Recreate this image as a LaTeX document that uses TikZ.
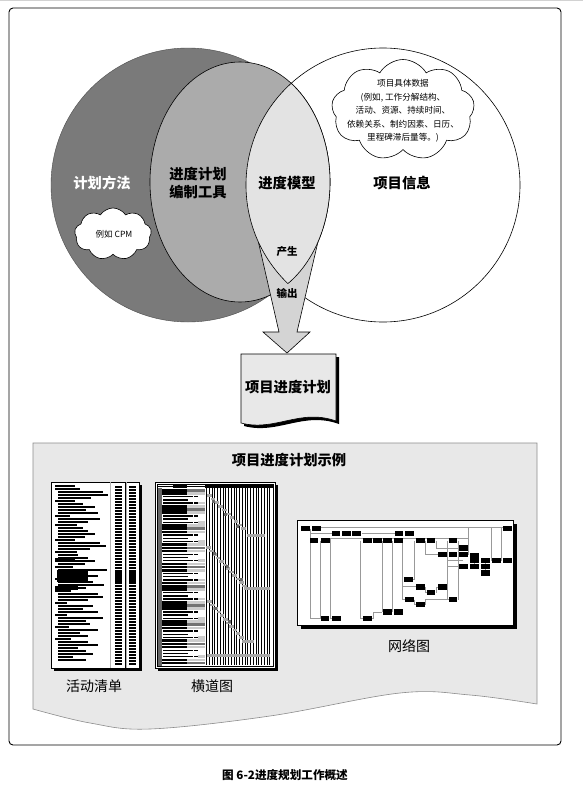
\documentclass[tikz,border=0pt]{standalone}
\usepackage{fontspec}
\setmainfont{Noto Sans CJK SC}
\usetikzlibrary{shapes.symbols}
\definecolor{darkc}{gray}{0.48}
\definecolor{midg}{gray}{0.67}
\definecolor{lensg}{gray}{0.89}
\definecolor{arrowg}{gray}{0.83}
\definecolor{panelg}{gray}{0.91}
\definecolor{docg}{gray}{0.91}
\definecolor{netline}{gray}{0.6}
\begin{document}
\begin{tikzpicture}[x=1pt,y=-1pt,
  mainlab/.style={font=\fontsize{14.3}{18.5}\selectfont\bfseries, align=center, inner sep=0pt},
  smalllab/.style={font=\fontsize{10.5}{12}\selectfont\bfseries, inner sep=0pt},
  cloudshape/.style={cloud, cloud ignores aspect, draw=black, fill=white, line width=0.6pt, inner sep=0pt},
  thinline/.style={line width=0.6pt, draw=black},
  netbox/.style={fill=black},
]
\useasboundingbox (0,0) rectangle (583,787);
\fill[white] (0,0) rectangle (583,787);
\draw[gray!35, line width=1.5pt] (0,0.7) -- (583,0.7);

% outer frame
\draw[line width=0.9pt, rounded corners=4pt] (9,8) rectangle (561,745);

% Venn circles
\fill[darkc] (188,185) circle[radius=137pt];
\draw[line width=0.4pt, black!70] (188,185) circle[radius=137pt];
\filldraw[fill=white, thinline] (383,185) circle[radius=137pt];
\filldraw[fill=midg, thinline] (240,182) ellipse[x radius=90pt, y radius=120pt];
% arrow
\filldraw[fill=arrowg, thinline] (258.4,242) -- (279,332) -- (263,332) -- (287,353) -- (310,332) -- (297,332) -- (317.9,242) -- cycle;
% lens
\begin{scope}
  \clip (383,185) circle[radius=137pt];
  \filldraw[fill=lensg, thinline] (240,182) ellipse[x radius=90pt, y radius=120pt];
\end{scope}
\begin{scope}
  \clip (240,182) ellipse[x radius=90pt, y radius=120pt];
  \draw[thinline] (383,185) circle[radius=137pt];
\end{scope}

% labels
\node[mainlab, text=white] (plan) at (102,183) {计划方法};
\node[mainlab] (tool) at (198,183) {进度计划\\编制工具};
\node[mainlab] (model) at (287,183) {进度模型};
\node[mainlab] (info) at (402,183) {项目信息};
\node[smalllab] (gen) at (287,252) {产生};
\node[smalllab] (outp) at (287,293) {输出};

% clouds
\node[cloudshape, cloud puffs=9, cloud puff arc=120, minimum width=143pt, minimum height=101pt] (bigcloud) at (403,110) {};
\node[font=\fontsize{8.6}{13.5}\selectfont, align=center, inner sep=0pt] (bigtext) at (403,111)
  {项目具体数据\\(例如, 工作分解结构、\\活动、资源、持续时间、\\依赖关系、制约因素、日历、\\里程碑滞后量等。)};
\node[cloudshape, cloud puffs=9, cloud puff arc=115, minimum width=77pt, minimum height=52pt] (smallcloud) at (113,234) {};
\node[font=\fontsize{8.5}{10}\selectfont, inner sep=0pt] (cpm) at (114,234) {例如 CPM};

% schedule document
\fill[black] (244,357) -- (339,357) -- (339,424) .. controls (303,411) and (278,435) .. (244,426) -- cycle;
\filldraw[fill=docg, thinline] (241,354) -- (336,354) -- (336,421) .. controls (300,408) and (275,432) .. (241,423) -- cycle;
\node[mainlab] (sched) at (288,387) {项目进度计划};

% examples panel
\filldraw[fill=panelg, draw=black!45, line width=0.6pt] (33,443) -- (537,443) -- plot[smooth, tension=0.6] coordinates {(537,704) (470,695) (400,693) (270,716) (150,729) (90,723) (33,709)} -- cycle;
\node[mainlab] (extitle) at (289,460) {项目进度计划示例};

% ---- activity list ----
\fill[black] (54,485) rectangle (142,671);
\filldraw[fill=white, draw=black, line width=0.7pt] (51,482) rectangle (139,668);
\draw[gray!60, line width=1.2pt] (110.7,482) -- (110.7,668);
\draw[black, line width=0.5pt] (125.3,482) -- (125.3,668);
\draw[gray!60, line width=0.8pt] (126.6,482) -- (126.6,668);
\foreach \i in {0,...,59} {
  \fill (114.7,486+3*\i) rectangle ++(7.3,1.6);
  \fill (129,486+3*\i) rectangle ++(7.3,1.6);
}
\foreach \a/\w [count=\i] in {55/20,55/25,58/45,58/50,58/33,55/20,58/25,58/37,58/28,58/40,55/15,58/42,58/30,55/22,58/25,58/30,58/37,58/27,55/20,58/42,58/48,58/32,55/22,58/20,58/30,58/37,58/27,55/18,58/49,58/25,58/40,55/20,58/35,58/46,58/28,55/16,58/40,58/45,58/30,55/12,58/35,58/25,58/40,55/12,58/45,58/28,58/32,55/14,58/40,58/22,58/30,55/16,58/30,58/40,58/20,58/28,58/35,58/15,58/28}
  \fill (\a,482+3*\i) rectangle ++(\w,1.6);
\fill (57,570) rectangle (88,582);
\fill (114.7,570) rectangle (122,582);
\fill (129,570) rectangle (136.3,582);
\fill (55,558) rectangle (75,562);
\fill (55,586) rectangle (78,590);

% ---- bar chart ----
\fill[black] (158,485) rectangle (278,671);
\filldraw[fill=white, draw=black, line width=0.7pt] (155,482) rectangle (275,668);
\draw[line width=0.4pt] (157.3,484.3) rectangle (272.7,665.7);
\fill (205,485) rectangle (272.5,488);
\fill (173,485) rectangle (187,487.5);
\draw[line width=0.4pt] (158,486) -- (205,486);
\fill[black!60] (157.5,488) rectangle (161.5,665.5);
\foreach \i in {0,...,23}
  \draw[line width=0.9pt] (206.5+2.75*\i,488) -- ++(0,177);
\foreach \i in {0,...,54} {
  \pgfmathtruncatemacro{\m}{mod(\i,6)}
  \pgfmathsetmacro{\yy}{489+3.2*\i}
  \ifnum\m=0
    \fill (162,\yy) rectangle ++(25,2.6);
    \fill[black!55] (187,\yy) rectangle ++(18,2.6);
  \fi
  \ifnum\m=1
    \fill (162,\yy) rectangle ++(25,2.6);
    \fill[black!20] (187,\yy) rectangle ++(18,2.6);
  \fi
  \ifnum\m=2
    \fill (163,\yy+0.6) rectangle ++(30,1.3);
    \fill (194,\yy+0.6) rectangle ++(4,1.3);
  \fi
  \ifnum\m=3
    \fill (163,\yy+0.6) rectangle ++(25,1.3);
  \fi
  \ifnum\m=4
    \fill (163,\yy+0.6) rectangle ++(30,1.3);
    \fill (194,\yy+0.6) rectangle ++(4,1.3);
    \fill[black!20] (198,\yy) rectangle ++(7,2.6);
  \fi
  \ifnum\m=5
    \fill (162,\yy) rectangle ++(25,2.6);
    \fill[black!20] (187,\yy) rectangle ++(18,2.6);
  \fi
}
\foreach \k in {0,...,9}
  \fill[black!35] (207+3.8*\k,494+3.7*\k) rectangle ++(4.5,2.6);
\fill[black!35] (247,534) rectangle ++(18,2.6);
\foreach \k in {0,...,11}
  \fill[black!35] (206+3.3*\k,546+3.5*\k) rectangle ++(4.5,2.6);
\fill[black!35] (244,587) rectangle ++(26,2.6);
\foreach \k in {0,...,11}
  \fill[black!35] (207+3.2*\k,600+3.6*\k) rectangle ++(4.5,2.6);
\fill[black!35] (242,640) rectangle ++(12,2.6);
\fill[black!35] (207,654) rectangle ++(63,2.6);
\foreach \x/\y in {212/500, 224/513, 236/525, 213/552, 226/565, 240/578, 214/607, 228/620}
  \fill[black!60] (\x,\y) rectangle ++(3,2.6);

% ---- network diagram ----
\begin{scope}[shift={(295,518)}, scale=1/3]
  \fill[black] (18,18) rectangle (667,334);
  \filldraw[fill=white, draw=black, line width=0.7pt] (8,8) rectangle (655,322);
  \begin{scope}[netline, line width=0.9pt]
    \draw (65,29) -- (637,29);
    \draw (45,32) -- (45,300) -- (90,300);
    \draw (45,47) -- (110,47);
    \draw (75,68) -- (75,300);
    \draw (106,62) -- (106,300) -- (125,300);
    \draw (106,62) -- (520,62);
    \draw (200,47) -- (300,47);
    \draw (197,68) -- (197,302) -- (217,302);
    \draw (230,302) -- (236,302) -- (236,282) -- (262,282);
    \draw (262,68) -- (262,282);
    \draw (292,68) -- (292,282);
    \draw (323,68) -- (323,245) -- (343,245);
    \draw (323,205) -- (376,205);
    \draw (357,68) -- (357,185);
    \draw (357,185) -- (340,185);
    \draw (390,68) -- (390,110) -- (443,110);
    \draw (425,68) -- (425,90) -- (505,90);
    \draw (457,68) -- (457,245);
    \draw (490,68) -- (490,245);
    \draw (457,128) -- (505,128);
    \draw (457,146) -- (505,146);
    \draw (520,29) -- (520,110);
    \draw (590,29) -- (590,128);
    \draw (620,29) -- (620,128);
    \draw (390,207) -- (390,224) -- (408,224);
    \draw (425,224) -- (425,207) -- (443,207);
    \draw (357,245) -- (357,260) -- (376,260);
    \draw (392,260) -- (392,245) -- (474,245);
    \draw (538,110) -- (538,146);
    \draw (572,128) -- (572,165);
  \end{scope}
  \foreach \x/\y in {32/32,65/32,637/32,123/47,155/47,185/47,312/47,343/47,
    57/68,91/68,217/68,248/68,277/68,310/68,376/68,408/68,474/68,
    505/90,443/110,474/110,505/110,538/112,538/128,572/128,604/128,637/128,
    505/146,538/146,572/146,572/165,340/185,376/207,443/207,408/224,
    343/245,474/245,376/260,277/282,310/282,90/302,125/302,217/302}
    \fill[netbox] (\x-13,\y-8) rectangle (\x+13,\y+8);
\end{scope}

% sample labels
\node[font=\fontsize{14}{16}\selectfont, inner sep=0pt] (actlab) at (94,686) {活动清单};
\node[font=\fontsize{14}{16}\selectfont, inner sep=0pt] (barlab) at (212,686) {横道图};
\node[font=\fontsize{14}{16}\selectfont, inner sep=0pt] (netlab) at (409,646) {网络图};

% caption
\node[font=\fontsize{11.6}{13}\selectfont\bfseries, inner sep=0pt] (cap) at (285,775) {图 6-2进度规划工作概述};
\end{tikzpicture}
\end{document}
